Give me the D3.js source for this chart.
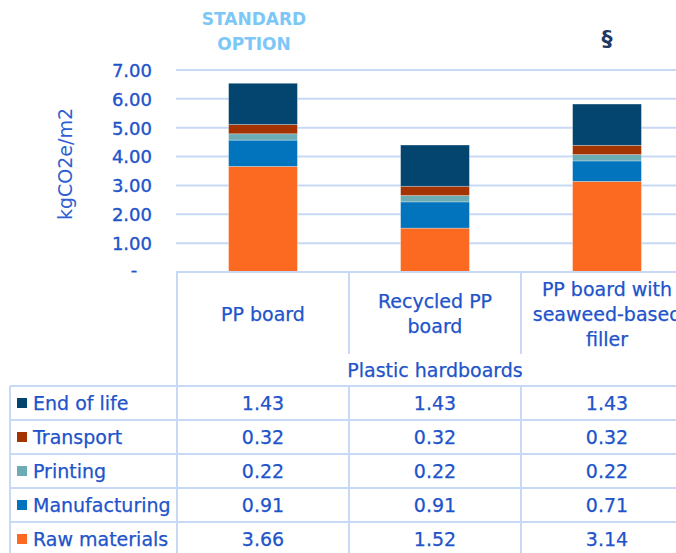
<!DOCTYPE html>
<html><head><meta charset="utf-8">
<script src="https://cdn.jsdelivr.net/npm/d3@7"></script>
<style>html,body{margin:0;padding:0;background:#fff;overflow:hidden}</style>
</head><body>
<svg id="c" width="676" height="553"></svg>
<script>
const categories = ["PP board", "Recycled PP board", "PP board with seaweed-based filler"];
const categoryLines = [["PP board"], ["Recycled PP", "board"], ["PP board with", "seaweed-based", "filler"]];
const groupLabel = "Plastic hardboards";
const stages = ["Raw materials", "Manufacturing", "Printing", "Transport", "End of life"];
const rawMaterials = [3.66, 1.52, 3.14];
const manufacturing = [0.91, 0.91, 0.71];
const printing = [0.22, 0.22, 0.22];
const transport = [0.32, 0.32, 0.32];
const endOfLife = [1.43, 1.43, 1.43];
const yTicks = [0, 1, 2, 3, 4, 5, 6, 7];
const topNotes = [["STANDARD", "OPTION"], [], ["§"]];
const colors = ["#FC6A21", "#0274BD", "#6BACB5", "#A33402", "#03456F"];

const series = [rawMaterials, manufacturing, printing, transport, endOfLife];
const rows = categories.map((c, i) => { const o = {cat: c}; stages.forEach((s, k) => o[s] = series[k][i]); return o; });
const stack = d3.stack().keys(stages)(rows);

const svg = d3.select("#c");
const font = "DejaVu Sans, Verdana, sans-serif";
const blue = "#2153CA";
const grid = "#C8D9F6";

const x = d3.scaleBand().domain(categories).range([177, 693]);
const y = d3.scaleLinear().domain([0, 7]).range([272, 70]);
const bw = x.bandwidth() * 0.4;

// gridlines
svg.append("g").selectAll("line").data(yTicks.filter(t => t > 0)).join("line")
  .attr("x1", 176).attr("x2", 676).attr("y1", d => y(d)).attr("y2", d => y(d))
  .attr("stroke", grid).attr("stroke-width", 2);

// bars
svg.append("g").selectAll("g").data(stack).join("g").attr("fill", (d, i) => colors[i])
  .selectAll("rect").data(d => d).join("rect")
  .attr("x", d => x(d.data.cat) + (x.bandwidth() - bw) / 2)
  .attr("width", bw)
  .attr("y", d => y(d[1]))
  .attr("height", d => y(d[0]) - y(d[1]))
  .attr("stroke", "#ffffff").attr("stroke-opacity", 0.35).attr("stroke-width", 0.8);

// y tick labels
const yAxis = d3.axisLeft(y).tickValues(yTicks).tickSize(0).tickPadding(0)
  .tickFormat(d => d === 0 ? "-" : d3.format(".2f")(d));
const ya = svg.append("g").attr("transform", "translate(152,0)").call(yAxis);
ya.select(".domain").remove();
ya.selectAll("text").attr("font-family", font).attr("font-size", 18).attr("fill", blue)
  .attr("stroke", blue).attr("stroke-width", 0.35)
  .attr("dy", "0.35em")
  .filter(d => d === 0).attr("text-anchor", "middle").attr("x", -18).attr("dy", "0.2em");

// y axis title
svg.append("text").attr("transform", "translate(72,164) rotate(-90)")
  .attr("text-anchor", "middle").attr("font-family", font).attr("font-size", 19)
  .attr("fill", "#2F5FD0").text("kgCO2e/m2");

// top notes
topNotes.forEach((lines, i) => {
  lines.forEach((t, j) => {
    const single = lines.length === 1;
    svg.append("text").attr("x", x(categories[i]) + x.bandwidth() / 2 - (single ? 0 : 9))
      .attr("y", single ? 46 : 25 + j * 25)
      .attr("text-anchor", "middle").attr("font-family", font)
      .attr("font-size", single ? 22 : 17).attr("font-weight", "bold")
      .attr("fill", single ? "#1F3864" : "#7DC7F6").text(t);
  });
});

// table
const tg = svg.append("g");
const line = (x1, y1, x2, y2) => tg.append("line").attr("x1", x1).attr("y1", y1).attr("x2", x2).attr("y2", y2)
  .attr("stroke", grid).attr("stroke-width", 2);
const headTop = 272, headSplit = 354, headBottom = 386, rowH = 34;
line(176, headTop, 676, headTop);
line(177, headTop, 177, 553);
categories.forEach((c, i) => {
  if (i > 0) {
    line(x(c), headTop, x(c), headSplit);
    line(x(c), headBottom, x(c), 553);
  }
});
line(10, headBottom, 676, headBottom);
line(10, headBottom, 10, 553);

const txt = (sel) => sel.attr("font-family", font).attr("font-size", 19).attr("fill", blue)
  .attr("stroke", blue).attr("stroke-width", 0.25);

// header labels
categoryLines.forEach((lines, i) => {
  const cx = x(categories[i]) + x.bandwidth() / 2;
  const mid = 314;
  lines.forEach((t, j) => {
    txt(tg.append("text").attr("x", cx).attr("y", mid + (j - (lines.length - 1) / 2) * 25)
      .attr("dy", "0.35em").attr("text-anchor", "middle")).text(t);
  });
});
txt(tg.append("text").attr("x", (x.range()[0] + x.range()[1]) / 2).attr("y", 370).attr("dy", "0.35em")
  .attr("text-anchor", "middle")).text(groupLabel);

// data rows (top: End of life ... bottom: Raw materials)
const order = stages.map((s, k) => k).reverse();
order.forEach((k, r) => {
  const top = headBottom + r * rowH;
  if (r > 0) line(10, top, 676, top);
  const cy = top + rowH / 2;
  tg.append("rect").attr("x", 17).attr("y", cy - 5).attr("width", 10).attr("height", 10).attr("fill", colors[k]);
  txt(tg.append("text").attr("x", 33).attr("y", cy).attr("dy", "0.35em")).text(stages[k]);
  series[k].forEach((v, i) => {
    txt(tg.append("text").attr("x", x(categories[i]) + x.bandwidth() / 2).attr("y", cy).attr("dy", "0.35em")
      .attr("text-anchor", "middle")).text(d3.format(".2f")(v));
  });
});
</script>
</body></html>
